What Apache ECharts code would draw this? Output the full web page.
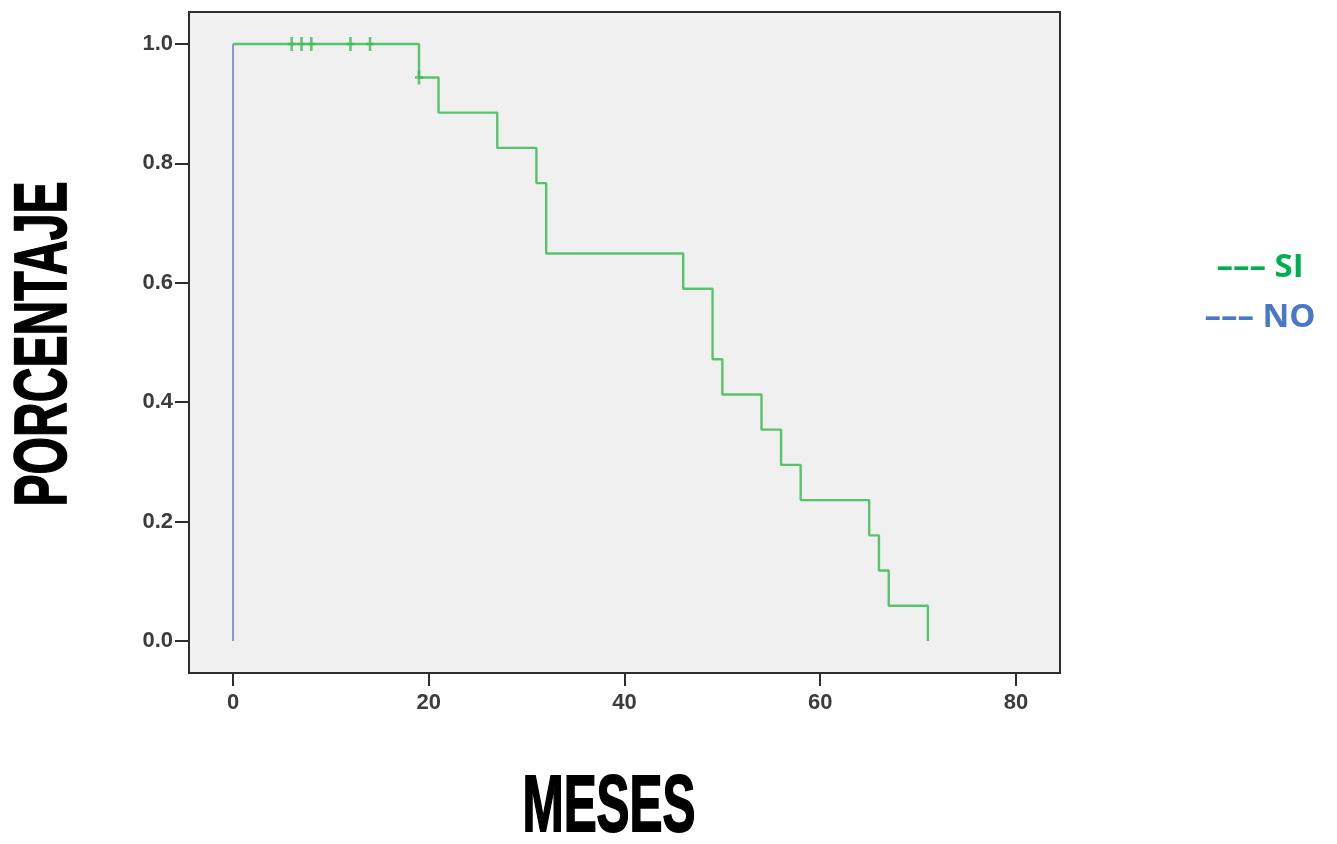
<!DOCTYPE html>
<html>
<head>
<meta charset="utf-8">
<title>Supervivencia</title>
<script src="https://cdn.jsdelivr.net/npm/echarts@6/dist/echarts.min.js"></script>
<style>
  html, body { margin: 0; padding: 0; background: #ffffff; }
  #chart { width: 1337px; height: 844px; }
</style>
</head>
<body>
<div id="chart"></div>
<script>
// Kaplan-Meier curve, group "SI": time (months) at which survival changes, and the new value
const siTimes = [0, 19, 21, 27, 31, 32, 46, 49, 50, 54, 56, 58, 65, 66, 67, 71];
const siSurvival = [1.0, 0.944, 0.885, 0.826, 0.767, 0.649, 0.590, 0.472, 0.413, 0.354, 0.295, 0.236, 0.177, 0.118, 0.059, 0.0];

// Censored cases in group "SI"
const siCensorTimes = [6, 7, 8, 12, 14, 19];
const siCensorSurvival = [1.0, 1.0, 1.0, 1.0, 1.0, 0.944];

// Group "NO": everything happens at month 0
const noTimes = [0, 0];
const noSurvival = [1.0, 0.0];

// Axis ticks
const xTicks = [0, 20, 40, 60, 80];
const yTicks = [0.0, 0.2, 0.4, 0.6, 0.8, 1.0];

const legendItems = ['SI', 'NO'];
const axisTitles = { x: 'MESES', y: 'PORCENTAJE' };

const GREEN_LINE = '#58c469';
const GREEN_MARK = '#45b857';
const BLUE_LINE = '#8596d8';
const GREEN_TEXT = '#00b050';
const BLUE_TEXT = '#4a78c6';

const zip = (a, b) => a.map((v, i) => [v, b[i]]);

const chart = echarts.init(document.getElementById('chart'), null, { renderer: 'canvas' });

// plus-shaped censor mark (8 x 14)
const censorSymbol = 'path://M2.7,0 H5.3 V5.7 H8 V8.3 H5.3 V14 H2.7 V8.3 H0 V5.7 H2.7 Z';

const titleFont = '900 86px "Liberation Sans", Arial, sans-serif';
const tickFont = { color: '#3c3c3c', fontFamily: '"Liberation Sans", Arial, sans-serif', fontSize: 22, fontWeight: 'bold' };

chart.setOption({
  animation: false,
  backgroundColor: '#ffffff',
  grid: {
    left: 189, right: 277, top: 12, bottom: 171,
    show: true,
    backgroundColor: '#f0f0f0',
    borderColor: '#2e2e2e',
    borderWidth: 2
  },
  xAxis: {
    type: 'value',
    min: -4.5, max: 84.5,
    axisLine: { show: false, onZero: false },
    splitLine: { show: false },
    axisTick: { show: true, inside: false, length: 13, customValues: xTicks,
      lineStyle: { color: '#2e2e2e', width: 2 } },
    axisLabel: Object.assign({ customValues: xTicks, margin: 19 }, tickFont)
  },
  yAxis: {
    type: 'value',
    min: -0.0536, max: 1.0536,
    axisLine: { show: false, onZero: false },
    splitLine: { show: false },
    axisTick: { show: true, inside: false, length: 14, customValues: yTicks,
      lineStyle: { color: '#2e2e2e', width: 2 } },
    axisLabel: Object.assign({ customValues: yTicks, margin: 16,
      formatter: v => v.toFixed(1) }, tickFont)
  },
  series: [
    {
      name: 'SI', type: 'line', step: 'end',
      data: zip(siTimes, siSurvival),
      showSymbol: false,
      lineStyle: { color: GREEN_LINE, width: 2.4 },
      z: 2
    },
    {
      name: 'SI censurado', type: 'scatter',
      data: zip(siCensorTimes, siCensorSurvival),
      symbol: censorSymbol, symbolSize: [8, 14],
      itemStyle: { color: GREEN_MARK },
      z: 3
    },
    {
      name: 'NO', type: 'line',
      data: zip(noTimes, noSurvival),
      showSymbol: false,
      lineStyle: { color: BLUE_LINE, width: 2 },
      z: 4
    }
  ],
  graphic: [
    {
      type: 'text',
      x: 609, y: 809, scaleX: 0.575, scaleY: 0.925,
      style: {
        text: axisTitles.x, font: titleFont, fill: '#000',
        stroke: '#000', lineWidth: 2,
        align: 'center', verticalAlign: 'middle'
      }
    },
    {
      type: 'text',
      x: 46, y: 344, rotation: Math.PI / 2, scaleX: 0.559, scaleY: 0.857,
      style: {
        text: axisTitles.y, font: titleFont, fill: '#000',
        stroke: '#000', lineWidth: 2,
        align: 'center', verticalAlign: 'middle'
      }
    },
    {
      type: 'text', x: 1260, y: 268,
      style: {
        text: '\u2013\u2013\u2013 ' + legendItems[0],
        font: 'bold 33px "Open Sans", sans-serif', fill: GREEN_TEXT,
        align: 'center', verticalAlign: 'middle'
      }
    },
    {
      type: 'text', x: 1260, y: 318,
      style: {
        text: '\u2013\u2013\u2013 ' + legendItems[1],
        font: 'bold 33px "Open Sans", sans-serif', fill: BLUE_TEXT,
        align: 'center', verticalAlign: 'middle'
      }
    }
  ]
});
</script>
</body>
</html>
